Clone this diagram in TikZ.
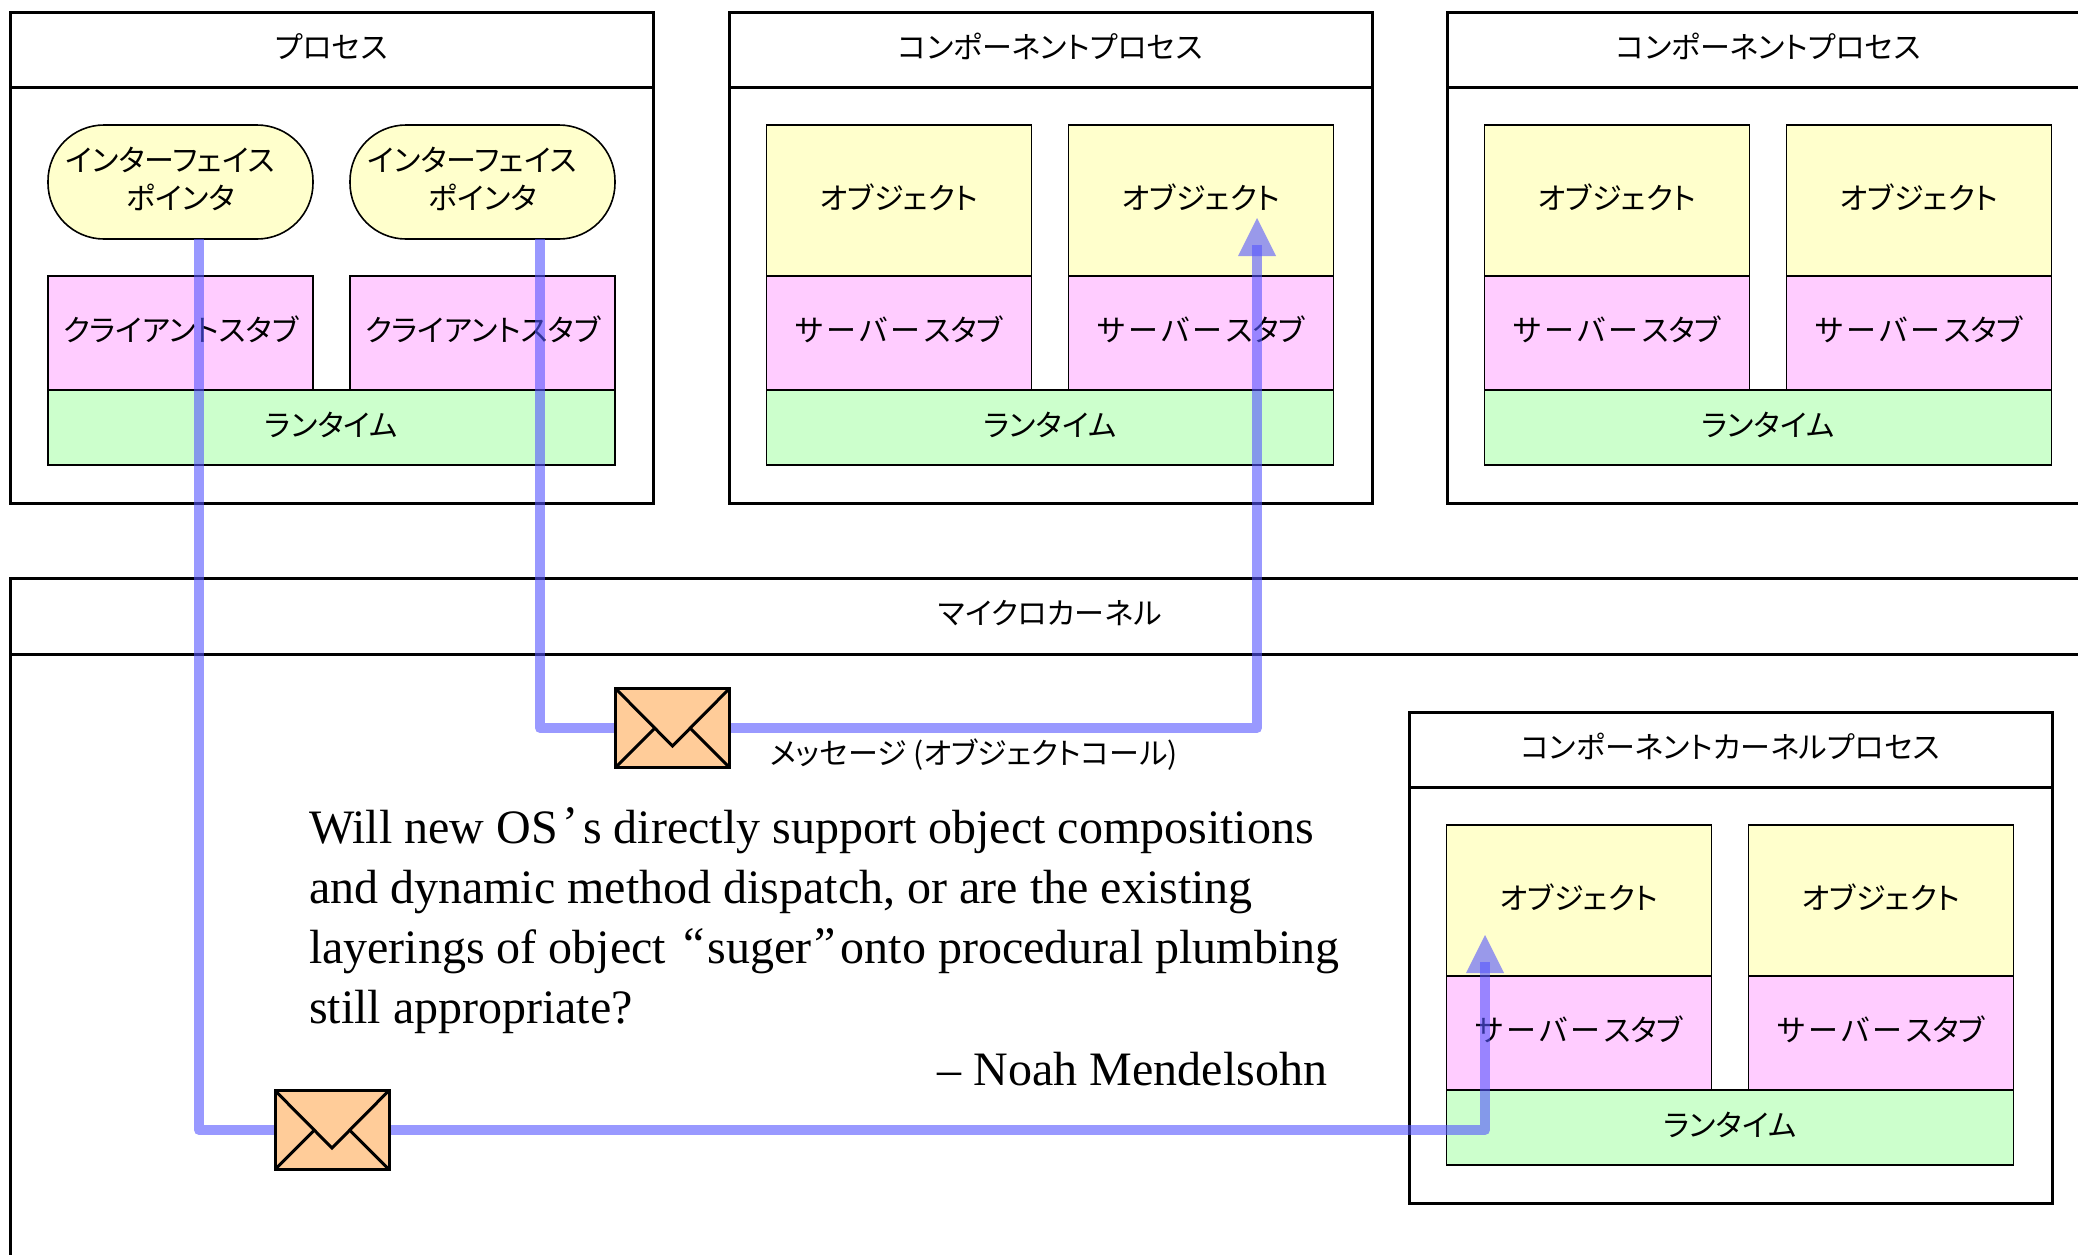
\documentclass[tikz,border=0pt]{standalone}
\usepackage{fontspec}
\usepackage{xcolor}
\usepackage{tikz}
\usetikzlibrary{positioning}
\setmainfont{Liberation Serif}
\newfontfamily\jpfont[RawFeature=+palt]{Noto Sans CJK JP}
\definecolor{objfill}{HTML}{FFFFCC}
\definecolor{stubfill}{HTML}{FFCCFF}
\definecolor{runfill}{HTML}{CCFFCC}
\definecolor{mailfill}{HTML}{FFCC99}
\definecolor{msgblue}{HTML}{5555FF}
\pgfdeclarelayer{front}
\pgfsetlayers{main,front}
\newcommand{\srvstub}{サ\kern1.6ptー\kern1.6ptバ\kern1.6ptー\kern1.6ptスタブ}

\begin{document}
\begin{tikzpicture}[
		x=0.5pt, y=-0.5pt,
		every node/.style={font=\jpfont\fontsize{15}{19}\selectfont, inner sep=0, outer sep=0, text height=10pt, text depth=1.1pt},
		cell/.style n args={3}{
			draw,
			fill=#1,
			line width=0.8pt,
			minimum width=#2,
			minimum height=#3},
		frame/.style 2 args={
			draw,
			line width=1.5pt,
			minimum width=#1,
			minimum height=#2},
		iface/.style={
			cell={objfill}{132.5pt}{57pt},
			rounded corners=28pt,
			text height=29pt,
			align=center},
		mail/.style={
			draw,
			fill=mailfill,
			line width=1.5pt,
			minimum width=57pt,
			minimum height=39.5pt,
			path picture={
				\draw[line width=1.5pt] (path picture bounding box.north west) -- ([yshift=-9pt]path picture bounding box.center) -- (path picture bounding box.north east);
				\draw[line width=1.5pt] (path picture bounding box.south west) -- ([xshift=-8.75pt]path picture bounding box.center);
				\draw[line width=1.5pt] (path picture bounding box.south east) -- ([xshift=8.75pt]path picture bounding box.center);
			}},
		msgline/.style={
			draw=msgblue,
			draw opacity=0.6,
			line width=5pt,
			line join=round},
		msghead/.style={fill=msgblue, fill opacity=0.6},
		quotetext/.style={
			font=\fontsize{24}{30}\selectfont,
			text height=100pt,
			text depth=5pt,
			align=left}
		]
		\useasboundingbox (0,0) rectangle (2078,1254);
		\clip (0,0) rectangle (2078,1254);

		\node [frame={321.5pt}{37.5pt}] (pt) at (331.5, 49.5) {プロセス};
		\node [frame={321.5pt}{208pt}, below=0pt of pt] (pb) {};
		\node [iface] (iface1) at (180.5, 182) {インターフェイス\hspace*{10.5pt}\\ポインタ};
		\node [iface] (iface2) at (482.5, 182) {インターフェイス\hspace*{10.5pt}\\ポインタ};
		\node [cell={stubfill}{132.5pt}{57pt}] (stub1) at (180.5, 333) {クライアントスタブ};
		\node [cell={stubfill}{132.5pt}{57pt}] (stub2) at (482.5, 333) {クライアントスタブ};
		\node [cell={runfill}{283.5pt}{37.5pt}] (run1) at (331.5, 427.5) {ランタイム};

		\node [frame={1040pt}{38pt}] (kt) at (1050, 616) {マイクロカーネル};
		\node [frame={1040pt}{310pt}, below=0pt of kt] (kb) {};

		\foreach \fx/\fy/\n/\i in {729/12/pa/コンポーネントプロセス, 1447/12/pc/コンポーネントプロセス, 1409/712/pk/コンポーネントカーネルプロセス} {
			\node [frame={321.5pt}{37.5pt}] (\n t) at (\fx+321.5, \fy+37.5) {\i};
			\node [frame={321.5pt}{208pt}, below=0pt of \n t] (\n b) {};
			\node [cell={objfill}{132.5pt}{75.5pt}] (\n obj1) at (\fx+170, \fy+188.5) {オブジェクト};
			\node [cell={objfill}{132.5pt}{75.5pt}] (\n obj2) at (\fx+472, \fy+188.5) {オブジェクト};
			\node [cell={stubfill}{132.5pt}{57pt}, below=0pt of \n obj1] (\n stub1) {\srvstub};
			\node [cell={stubfill}{132.5pt}{57pt}, below=0pt of \n obj2] (\n stub2) {\srvstub};
			\node [cell={runfill}{283.5pt}{37.5pt}] (\n run) at (\fx+321, \fy+415.5) {ランタイム};
		}

		\begin{pgfonlayer}{front}
		\node [mail] (mail1) at (672.5, 728) {};
		\node [mail] (mail2) at (332, 1130) {};
		\end{pgfonlayer}
		\coordinate (enda) at (1257, 245);
		\coordinate (tipa) at (1257, 218);
		\coordinate (endb) at (1485, 962);
		\coordinate (tipb) at (1485, 935);

		\draw[msgline] ([xshift=28.75pt]iface2.south) |- (mail1.west);
		\draw[msgline] (mail1.east) -| (enda);
		\fill[msghead] (tipa) -- ++(-19,38) -- ++(38,0) -- cycle;
		\draw[msgline] ([xshift=9.25pt]iface1.south) |- (mail2.west);
		\draw[msgline] (mail2.east) -| (endb);
		\fill[msghead] (tipb) -- ++(-19,38) -- ++(38,0) -- cycle;

		\node [anchor=west] (msg) at (770, 756) {メッセージ (オブジェクトコール)};
		\node [quotetext, anchor=base west] (quote) at (309, 1023) {Will new OS\kern2.4pt\raisebox{2pt}{’}\kern2.4pt s directly support object compositions\\and dynamic method dispatch, or are the existing\\layerings of object \kern2.5pt\raisebox{1.5pt}{“}\kern1.5pt suger\kern1.5pt\raisebox{1.5pt}{”}\kern2.5pt onto procedural plumbing\\still appropriate?};
		\node [quotetext, text height=16pt, anchor=base east] (author) at (1327, 1085) {– Noah Mendelsohn};
\end{tikzpicture}
\end{document}
